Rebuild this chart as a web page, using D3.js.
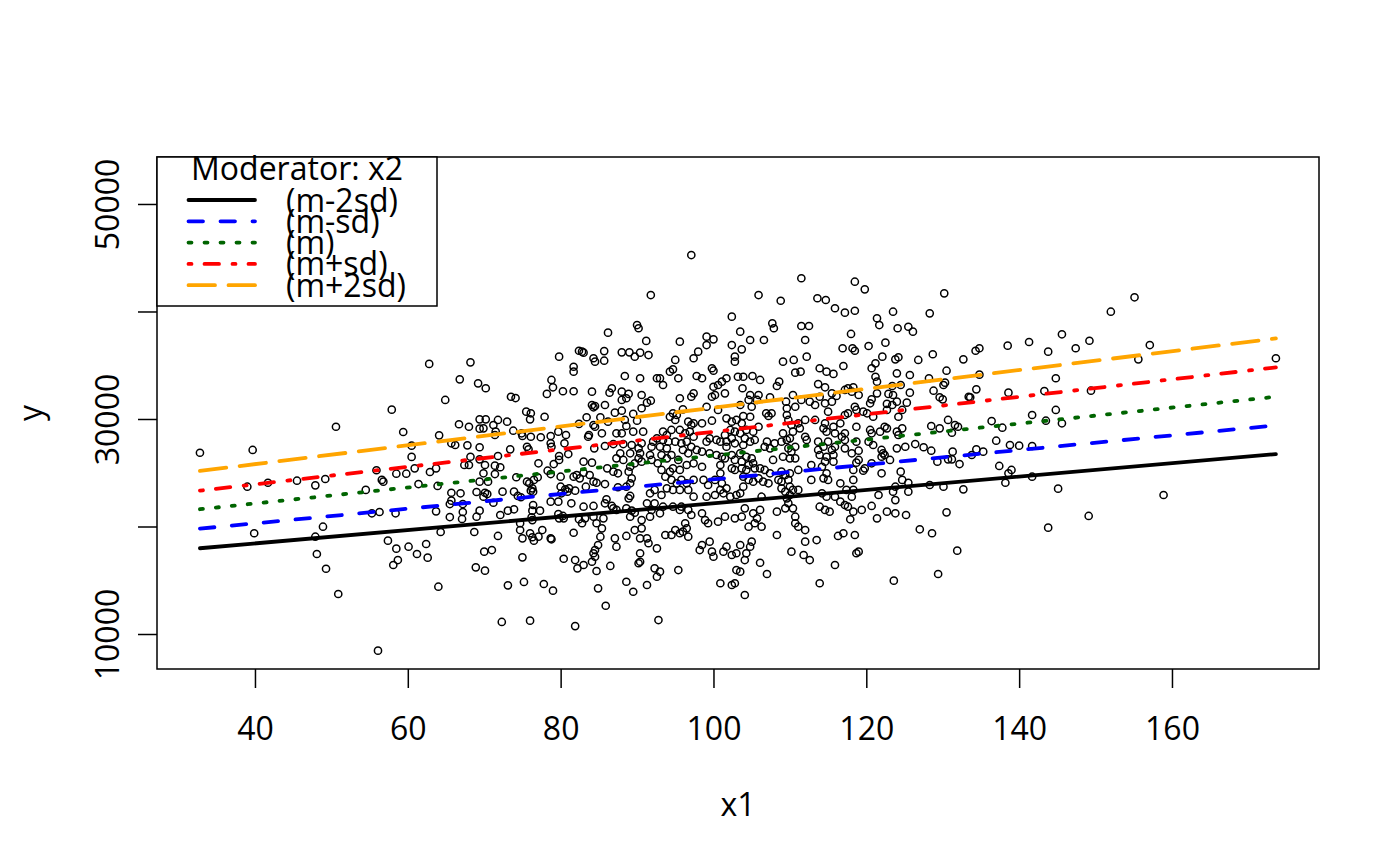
<!DOCTYPE html>
<html><head><meta charset="utf-8">
<script src="https://cdn.jsdelivr.net/npm/d3@7"></script>
<style>
body{margin:0;background:#fff}
text{font-family:"Open Sans","Noto Sans",sans-serif;fill:#000}
</style>
</head><body>
<svg id="chart" width="1400" height="866"></svg>
<script>
// ---- data ----
const xLim = [27.18, 179.24];
const yLim = [6745, 54370];
const xTicks = [40, 60, 80, 100, 120, 140, 160];
const yTicks = [10000, 20000, 30000, 40000, 50000];
const yTickLabels = ["10000", "", "30000", "", "50000"];
const xLabel = "x1";
const yLabel = "y";
const legendTitle = "Moderator: x2";
const modLabels = ["(m-2sd)", "(m-sd)", "(m)", "(m+sd)", "(m+2sd)"];
const modIntercepts = [15938, 17565, 19170, 20668, 22302];
const modSlopes = [62.2, 68.2, 74.3, 81.4, 87.5];
const modColors = ["#000000", "#0000FF", "#006400", "#FF0000", "#FFA500"];
const modDash = [null, "14.5,17.5", "3,13", "3,13,14.5,13.5", "26.5,13.5"];

const obs = [
[32.8,26860],[39.7,27120],[39.0,23700],[41.7,24070],[45.5,24260],[47.9,23830],[39.9,19370],[47.9,19050],[48.1,17440],
[62.8,35120],[68.2,35270],[66.8,33690],[69.2,33320],[64.9,31770],[57.9,30870],[50.6,29280],[59.4,28790],[66.7,29510],[68.0,29280],[69.4,29970],[69.4,29100],[64.1,28480],[60.5,27520],[65.7,27740],[66.2,27580],[67.8,27550],[69.4,27370],[60.5,26470],[68.2,26490],[67.4,25720],[68.0,25720],[55.9,25230],[58.5,24910],[59.8,24910],[60.9,25410],[62.9,25070],[63.7,25410],[49.2,24420],[56.6,24330],[56.8,24170],[54.5,23400],[61.4,23950],[63.9,23770],[69.0,23210],[65.7,23140],[66.9,23090],[65.5,22090],[65.7,22400],[67.2,22090],[67.2,21350],[55.3,21230],[56.3,21350],[58.4,21230],[63.7,21410],[65.5,20880],[67.1,20700],[69.0,20910],[69.4,21470],[48.9,19980],[64.3,19490],[68.7,19490],[57.4,18680],[58.5,17940],[60.1,18120],[62.4,18370],[61.2,17440],[62.6,17100],[58.7,16880],[58.1,16420],[49.3,16070],[68.9,16200],[50.9,13720],[64.0,14400],[56.1,8450],
[79.8,35800],[82.4,36350],[81.7,34860],[81.7,34400],[78.8,33630],[79.0,32950],[78.2,32330],[80.3,32580],[81.7,32580],[70.2,32860],[73.5,32070],[74.1,31950],[75.5,30680],[76.1,30530],[76.0,29970],[77.9,30210],[70.2,29970],[71.8,29910],[73.0,29750],[71.2,29440],[69.9,29130],[71.5,28820],[71.4,28510],[73.8,28910],[74.9,28670],[75.0,28420],[76.1,28350],[77.4,28300],[78.7,28420],[78.7,27740],[78.8,27420],[79.7,28820],[80.7,28510],[82.4,29540],[73.4,27180],[75.6,27420],[75.8,27180],[80.5,27740],[81.0,26740],[79.8,26560],[79.8,26190],[71.8,26560],[69.4,26250],[77.1,25880],[79.1,25810],[70.1,25720],[71.4,25660],[72.1,25510],[69.9,24950],[71.4,24880],[78.3,25190],[78.7,24880],[74.2,24580],[75.6,24170],[75.9,24020],[76.5,24330],[77.0,24580],[80.0,24630],[82.1,24790],[81.7,24630],[70.5,24170],[69.4,24170],[76.3,23550],[76.1,23330],[76.4,23240],[72.4,23240],[70.1,23140],[70.4,23020],[69.9,22770],[73.9,23240],[74.4,22840],[74.8,22720],[80.0,23700],[80.6,23460],[80.9,23240],[81.1,23550],[81.9,23330],[80.1,23090],[71.2,22210],[76.4,22000],[76.3,21470],[78.7,22310],[79.7,22310],[81.4,22160],[73.1,21470],[73.9,21600],[77.3,21470],[72.1,21070],[76.2,20860],[79.7,21160],[80.3,20980],[79.8,20760],[80.4,20760],[82.4,20670],[74.7,20300],[76.3,20600],[74.7,19670],[75.0,18900],[76.0,19370],[76.3,19000],[76.5,18680],[77.1,19050],[77.6,19670],[78.7,18900],[78.8,18810],[81.7,19420],[71.8,19120],[70.0,17660],[71.0,17810],[75.0,17130],[80.4,17000],[81.9,16880],[82.2,16110],[70.1,15890],[73.1,14530],[75.2,14840],[77.8,14650],[79.0,14030],[72.3,11120],[76.0,11240],[81.9,10740],
[91.8,41530],[90.0,38740],[90.2,38440],[86.2,38030],[91.2,37260],[82.8,36260],[83.0,36170],[85.7,36320],[84.3,35650],[84.5,35330],[85.7,35420],[88.0,36200],[89.0,36200],[89.7,35800],[90.4,36170],[91.5,35950],[88.4,34000],[90.4,33790],[92.6,33790],[86.7,32860],[86.4,32450],[84.1,32540],[88.0,32540],[88.9,32330],[88.6,31930],[88.0,31770],[90.6,32230],[91.8,31700],[91.3,31520],[84.1,31300],[84.5,31210],[84.3,31090],[85.8,31300],[88.0,30770],[87.1,30590],[90.6,31000],[89.5,30470],[83.4,30160],[85.2,30160],[86.2,29750],[84.3,29440],[88.4,29910],[90.0,29840],[88.6,29350],[83.7,28510],[83.6,28350],[85.4,28670],[84.5,29280],[88.0,28670],[87.3,28670],[89.5,28820],[90.8,28820],[92.1,27890],[92.6,28200],[84.4,27270],[85.8,27490],[86.9,27670],[88.2,27670],[89.3,27580],[90.6,27740],[91.9,27420],[90.2,27270],[90.4,26810],[89.1,26810],[87.8,26810],[87.3,26340],[88.2,26190],[91.7,26650],[91.9,26190],[83.0,26030],[84.1,25940],[90.2,26340],[90.6,26030],[89.7,25880],[92.7,25880],[86.1,25410],[86.9,25100],[87.5,24950],[88.9,25100],[89.1,25560],[83.0,25000],[83.8,24790],[82.5,24480],[84.3,24170],[84.7,24070],[85.8,23950],[87.5,23650],[88.6,23700],[89.3,24480],[89.1,24020],[83.3,23700],[92.3,23400],[91.7,23090],[89.1,22840],[88.9,22620],[86.0,22530],[85.8,22160],[86.7,21910],[86.9,21690],[87.3,21540],[83.0,21840],[84.3,21910],[88.6,21690],[89.3,21470],[89.1,20910],[89.7,21280],[91.3,22160],[91.9,21540],[92.3,22160],[91.7,20910],[90.6,20600],[83.2,20760],[84.3,20910],[85.6,20760],[84.7,20300],[85.4,19830],[82.8,20300],[90.6,19830],[89.7,19670],[90.4,18900],[88.6,19120],[91.3,18900],[91.5,18440],[92.6,17970],[87.1,18900],[87.3,18120],[85.2,19050],[84.9,18280],[84.5,17810],[84.3,17510],[84.5,17190],[90.4,17510],[90.4,16720],[90.2,16580],[86.5,16330],[83.0,16420],[84.1,16720],[84.7,15860],[92.3,16110],[92.6,15330],[88.6,14860],[89.5,13930],[91.3,14560],[84.9,14250],[85.9,12630],[92.8,11300],
[97.1,45250],[102.4,39520],[103.5,38120],[95.6,37190],[99.1,37660],[100.0,37410],[99.1,36880],[98.0,36260],[97.4,35650],[95.0,35490],[102.4,36880],[102.8,35800],[102.8,35330],[99.8,34720],[100.0,34490],[94.3,34400],[94.7,34620],[93.0,33790],[93.4,33160],[95.4,33790],[97.8,34000],[98.5,33790],[101.7,33790],[101.1,33470],[100.6,33160],[100.0,33000],[103.2,33930],[101.5,32390],[99.8,32070],[100.2,32230],[97.4,32390],[97.1,32070],[95.6,31930],[99.1,31140],[103.5,31300],[100.6,30840],[96.0,30900],[94.7,30530],[95.2,30370],[94.3,30210],[95.0,29910],[96.7,29750],[97.1,29440],[97.4,29600],[98.5,29600],[99.8,29840],[101.7,30060],[102.4,29750],[103.0,29910],[93.4,28820],[93.9,28510],[94.5,28980],[95.6,28980],[96.3,28670],[96.9,28820],[97.4,28350],[102.2,28980],[102.8,28820],[103.5,28670],[101.5,28510],[100.4,28050],[100.9,27890],[101.7,27890],[102.4,28200],[102.8,27740],[101.7,27420],[99.1,27890],[99.5,28200],[93.4,28050],[94.1,27890],[95.0,27890],[93.0,27420],[93.9,27270],[95.8,27740],[96.5,27890],[97.1,27420],[96.0,27120],[96.7,26810],[97.8,27120],[98.5,26960],[93.2,26650],[93.9,26340],[94.5,26650],[95.4,26190],[99.5,26810],[100.4,26650],[101.1,26490],[101.5,26340],[102.4,26650],[102.8,26190],[103.5,26810],[98.5,25560],[97.4,25880],[96.5,25720],[95.6,25260],[94.7,25410],[94.3,25100],[100.9,25720],[100.9,24950],[102.4,25410],[102.8,25260],[93.2,25260],[93.7,24630],[94.5,24330],[95.2,24020],[95.8,24330],[96.5,24020],[97.4,24330],[98.7,24330],[99.3,23860],[100.2,24330],[101.1,24020],[100.9,23400],[101.7,23550],[101.3,23090],[93.9,23550],[94.7,23400],[95.6,23400],[96.7,23400],[97.4,22770],[99.1,22770],[100.2,22930],[102.2,22770],[103.0,22930],[93.2,22930],[94.7,21840],[95.6,21540],[95.8,21840],[96.7,21540],[97.1,21070],[98.5,21230],[98.9,20600],[99.3,20300],[100.6,20450],[101.5,20910],[102.8,20760],[93.0,21230],[93.4,21840],[96.3,20300],[96.5,19830],[96.0,19520],[96.7,19050],[95.6,19370],[95.0,19670],[94.5,19210],[93.7,19210],[99.5,18590],[98.5,18280],[98.2,17810],[99.8,17660],[100.0,17190],[101.3,17660],[101.7,18120],[102.4,17350],[103.0,17510],[103.5,18280],[95.4,15950],[103.0,15950],[103.5,15800],[100.9,14720],[102.4,14560],[102.8,14720],[93.0,15800],
[111.5,43090],[105.9,41530],[108.8,41000],[113.6,41230],[107.7,38900],[107.9,38440],[111.5,38650],[112.5,38650],[104.8,37350],[106.6,37350],[112.0,37350],[103.7,36480],[112.2,35800],[109.1,35330],[110.5,35490],[110.7,34310],[111.4,34400],[113.9,34720],[103.9,33930],[105.1,34000],[106.1,33630],[108.6,33470],[108.3,33070],[103.8,32860],[113.7,33250],[104.8,32230],[105.9,32230],[104.6,31770],[105.7,31770],[107.4,32020],[105.0,31140],[109.5,31610],[110.4,32230],[111.5,31770],[112.6,31610],[113.3,31300],[109.6,31000],[110.7,31140],[106.9,30530],[107.6,30530],[107.2,30280],[103.9,30280],[104.8,30210],[109.6,30370],[109.8,29910],[112.0,29910],[113.3,29910],[103.7,29600],[104.3,28980],[105.2,28820],[105.9,29280],[110.2,29440],[111.1,29600],[111.3,29130],[110.4,28820],[109.1,28670],[109.6,28050],[110.0,28200],[108.9,27890],[112.0,28350],[112.2,28050],[104.1,28200],[104.8,27890],[105.4,28050],[103.9,27580],[107.0,27890],[106.7,27420],[108.0,27740],[107.4,27270],[113.7,27890],[109.8,27270],[110.7,27420],[110.2,26960],[109.1,26490],[110.0,26340],[110.7,26340],[113.7,27120],[113.9,26650],[104.3,26490],[105.0,26340],[103.7,26030],[107.8,26190],[104.6,25720],[105.2,25880],[105.4,25410],[104.3,25260],[103.7,25410],[106.1,25410],[106.7,25260],[107.4,24950],[112.8,25720],[108.9,25100],[109.4,24790],[110.0,24950],[111.1,25260],[103.9,24630],[104.6,24330],[105.2,24170],[105.9,24480],[106.5,24170],[107.2,24020],[108.5,24330],[108.9,24170],[109.8,24330],[110.0,23700],[108.9,23550],[109.4,23240],[110.4,23400],[111.1,23400],[110.0,22930],[112.8,24330],[103.9,23700],[103.5,23090],[106.3,22770],[109.6,22620],[109.8,22160],[104.1,21690],[103.7,20910],[105.2,21230],[105.7,20760],[104.6,19980],[105.4,20300],[106.3,19980],[106.1,21540],[108.3,21380],[109.4,21690],[110.4,21690],[110.7,20910],[110.7,20300],[111.1,19980],[112.0,19670],[113.9,21840],[108.3,19210],[112.0,18590],[113.5,18740],[105.0,18590],[104.8,18120],[104.3,17510],[104.1,16880],[110.2,17660],[111.8,17350],[112.6,16880],[106.1,16630],[107.0,15580],[113.9,14720],[104.1,13630],
[118.5,42770],[119.8,42060],[114.7,41070],[115.9,40300],[117.2,39890],[118.5,40070],[121.4,39370],[121.7,38740],[123.5,39980],[124.1,38440],[118.0,37910],[116.9,36580],[118.2,36580],[118.5,36350],[120.3,36790],[122.5,37100],[122.1,35800],[123.8,35550],[124.2,35740],[117.0,34930],[120.7,34720],[121.2,35180],[114.8,34400],[115.7,34190],[121.2,33930],[121.4,33470],[124.0,34250],[114.6,32950],[117.2,32700],[117.6,32860],[118.3,32950],[118.1,32540],[119.0,32230],[115.5,32390],[116.1,32140],[121.4,32390],[123.4,33070],[124.5,33160],[122.9,32330],[123.5,32230],[113.9,32070],[114.6,31460],[115.5,31610],[120.7,31830],[120.5,31460],[122.7,31400],[123.4,31300],[124.0,31610],[115.0,30680],[118.5,31140],[118.7,30840],[119.6,30680],[122.7,30840],[117.2,30370],[117.6,30530],[120.1,30530],[120.9,30210],[124.2,30210],[114.6,29600],[116.6,29600],[114.4,29130],[115.7,29280],[118.7,29280],[122.4,29280],[122.7,29130],[114.8,28820],[115.9,28670],[117.2,28670],[116.8,28350],[117.2,28050],[120.5,28980],[120.7,28670],[121.8,28820],[124.0,28820],[124.2,28510],[115.0,27890],[115.9,27420],[114.4,27420],[115.5,27120],[118.7,27890],[120.3,27890],[120.9,27580],[122.0,27120],[122.2,26810],[122.0,26490],[122.4,26650],[124.0,27270],[117.2,27270],[118.1,26810],[119.0,27050],[114.8,26490],[115.7,26650],[114.6,26030],[115.7,26030],[119.0,26190],[118.7,25940],[123.1,26190],[120.7,25880],[118.3,25260],[119.6,25190],[119.8,25410],[114.2,25560],[114.8,24950],[114.4,24480],[115.0,24330],[122.0,24950],[124.5,25100],[118.3,24330],[116.6,24020],[117.4,23400],[118.3,23400],[123.8,23700],[123.5,23240],[121.6,22930],[114.2,23090],[114.8,22770],[115.9,22770],[116.6,22310],[118.1,22770],[117.2,22000],[123.8,22460],[120.7,21910],[114.6,21540],[115.2,21380],[117.6,21840],[118.3,21380],[117.9,20670],[119.4,21540],[122.7,21380],[123.8,21230],[121.4,20760],[116.3,19120],[117.0,19370],[118.5,19210],[119.0,17660],[118.7,17510],[115.9,16420],[123.6,14960],
[130.2,41690],[128.3,39830],[125.5,38580],[126.1,38120],[126.8,35490],[128.7,36020],[132.7,35550],[134.3,36350],[134.8,36580],[138.5,36820],[125.7,34090],[128.2,33790],[130.5,34490],[130.1,33160],[130.3,33380],[134.8,34120],[134.4,32760],[128.8,32630],[125.7,32450],[125.3,31520],[129.6,32020],[130.0,31830],[133.4,32070],[133.6,32020],[138.6,32450],[124.7,30840],[130.7,29910],[131.6,29440],[132.0,29280],[131.2,28720],[128.5,29350],[129.6,29130],[136.4,29810],[137.8,29190],[124.7,29130],[126.4,27670],[127.5,27370],[128.5,27050],[125.1,27420],[131.3,26960],[137.0,27980],[138.8,27580],[134.4,27180],[135.3,26960],[133.8,26650],[129.3,26030],[130.7,26250],[131.2,26250],[132.2,25810],[137.4,25630],[138.6,24950],[138.2,24070],[124.7,24330],[125.5,24070],[125.5,23240],[128.3,23860],[130.1,23700],[132.7,23460],[125.2,21070],[130.5,21320],[127.0,19740],[128.6,19370],[131.9,17750],[129.4,15580],
[155.1,41320],[152.0,39980],[141.3,37160],[145.6,37880],[143.8,36260],[147.4,36580],[149.2,37280],[155.6,35550],[144.8,33790],[143.3,32600],[149.4,32630],[141.7,30370],[144.8,30840],[143.5,29840],[145.6,29600],[140.0,27520],[141.7,27490],[139.0,25260],[141.7,24630],[145.1,23520],[149.1,20980],[143.8,19890],
[157.1,36880],[173.6,35650],[158.9,22930]
];

// ---- drawing ----
(function () {
const svg = d3.select("#chart");
const pL = 157, pR = 1319, pT = 157, pB = 669;
const fs = 32;
const x = d3.scaleLinear().domain(xLim).range([pL, pR]);
const y = d3.scaleLinear().domain(yLim).range([pB, pT]);

svg.append("rect").attr("width", 1400).attr("height", 866).attr("fill", "#fff");

// points
svg.append("g").selectAll("circle").data(obs).join("circle")
  .attr("cx", d => x(d[0])).attr("cy", d => y(d[1])).attr("r", 3.6)
  .attr("fill", "none").attr("stroke", "#000").attr("stroke-width", 1.5);

// regression lines
const xExt = d3.extent(obs, d => d[0]);
const line = d3.line().x(d => x(d[0])).y(d => y(d[1]));
modLabels.forEach((lab, i) => {
  const pts = xExt.map(v => [v, modIntercepts[i] + modSlopes[i] * v]);
  svg.append("path").attr("d", line(pts)).attr("fill", "none")
    .attr("stroke", modColors[i]).attr("stroke-width", 3.8)
    .attr("stroke-linecap", "round")
    .attr("stroke-dasharray", modDash[i]);
});

// box
svg.append("rect").attr("x", pL).attr("y", pT)
  .attr("width", pR - pL).attr("height", pB - pT)
  .attr("fill", "none").attr("stroke", "#000").attr("stroke-width", 1.5);

// x axis
const gx = svg.append("g").attr("transform", `translate(0,${pB})`)
  .call(d3.axisBottom(x).tickValues(xTicks).tickSize(19).tickFormat(d3.format("d")));
gx.select(".domain").remove();
gx.selectAll(".tick line").attr("stroke", "#000").attr("stroke-width", 1.5);
gx.selectAll(".tick text").attr("y", 71).attr("dy", null)
  .attr("font-family", null).attr("font-size", null).style("font-size", fs + "px");

// y axis
const gy = svg.append("g").attr("transform", `translate(${pL},0)`)
  .call(d3.axisLeft(y).tickValues(yTicks).tickSize(19).tickFormat((d, i) => yTickLabels[i]));
gy.select(".domain").remove();
gy.selectAll(".tick line").attr("stroke", "#000").attr("stroke-width", 1.5);
gy.selectAll(".tick text").attr("x", null).attr("dy", null)
  .attr("transform", "translate(-38,0) rotate(-90)")
  .attr("text-anchor", "middle").attr("font-size", null).style("font-size", fs + "px");

// axis labels
svg.append("text").attr("x", (pL + pR) / 2).attr("y", 816)
  .attr("text-anchor", "middle").style("font-size", fs + "px").text(xLabel);
svg.append("text").attr("transform", `translate(42,${(pT + pB) / 2}) rotate(-90)`)
  .attr("text-anchor", "middle").style("font-size", fs + "px").text(yLabel);

// legend
const lg = svg.append("g");
lg.append("rect").attr("x", 157).attr("y", 157).attr("width", 280).attr("height", 149)
  .attr("fill", "#fff").attr("stroke", "#000").attr("stroke-width", 1.5);
lg.append("text").attr("x", 297).attr("y", 179.5).attr("text-anchor", "middle")
  .style("font-size", fs + "px").text(legendTitle);
modLabels.forEach((lab, i) => {
  const ry = 200 + i * 21.3;
  lg.append("line").attr("x1", 188.5).attr("x2", 255).attr("y1", ry).attr("y2", ry)
    .attr("stroke", modColors[i]).attr("stroke-width", 3.8).attr("stroke-linecap", "round")
    .attr("stroke-dasharray", modDash[i]);
  lg.append("text").attr("x", 286).attr("y", ry + 11.5)
    .style("font-size", fs + "px").text(lab);
});
})();
</script>
</body></html>
